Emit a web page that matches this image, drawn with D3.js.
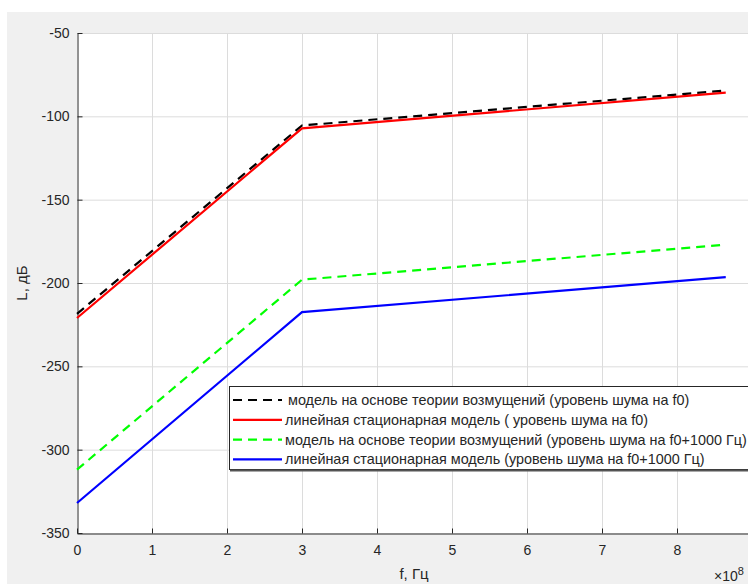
<!DOCTYPE html>
<meta charset="utf-8">
<style>
body{margin:0;background:#fff;}
svg text{font-family:"Liberation Sans",Arial,sans-serif;fill:#262626;}
</style>
<svg id="chart" width="748" height="584"></svg>
<script src="https://d3js.org/d3.v7.min.js"></script>
<script>
// frequency points, Hz
const freq = [0, 3e8, 8.65e8]
// noise levels, dB
const blackDashed = [-218.5, -105.5, -84.5]
const redSolid = [-221, -107.2, -85.8]
const greenDashed = [-312, -198, -177]
const blueSolid = [-332, -217.5, -196.5]

const xTicks = d3.range(0, 10)   // ×10^8
const yTicks = [-350, -300, -250, -200, -150, -100, -50]

const legendLabels = [
  'модель на основе теории возмущений (уровень шума на f0)',
  'линейная стационарная модель ( уровень шума на f0)',
  'модель на основе теории возмущений (уровень шума на f0+1000 Гц)',
  'линейная стационарная модель (уровень шума на f0+1000 Гц)'
]

const series = [
  {vals: blackDashed, color: '#000', dash: '9,6'},
  {vals: redSolid, color: '#ff0000', dash: null},
  {vals: greenDashed, color: '#00ff00', dash: '9,6'},
  {vals: blueSolid, color: '#0000ff', dash: null}
]

let svg = d3.select('#chart')

// figure background
svg.append('rect').attr('x', 7).attr('y', 12).attr('width', 741).attr('height', 572).attr('fill', '#f0f0f0')

let x = d3.scaleLinear().domain([0, 9e8]).range([77, 752])
let y = d3.scaleLinear().domain([-350, -50]).range([533, 33])

// plot area
svg.append('rect').attr('x', 77).attr('y', 33).attr('width', 675).attr('height', 500).attr('fill', '#fff')

// grid
let grid = svg.append('g').attr('stroke', '#dcdcdc').attr('stroke-width', 1)
grid.selectAll('line.gx').data(xTicks.slice(1)).join('line')
  .attr('x1', d => x(d * 1e8) + 0.5).attr('x2', d => x(d * 1e8) + 0.5)
  .attr('y1', 33).attr('y2', 533)
grid.selectAll('line.gy').data(yTicks.slice(1)).join('line')
  .attr('y1', d => y(d) + 0.5).attr('y2', d => y(d) + 0.5)
  .attr('x1', 77).attr('x2', 752)

// axes (ticks inside like matlab)
let xAxis = d3.axisBottom(x).tickValues(xTicks.map(d => d * 1e8))
  .tickFormat(d => d / 1e8).tickSizeInner(-5).tickSizeOuter(0).tickPadding(12)
let gx = svg.append('g').attr('transform', 'translate(0,533.5)').call(xAxis)
let yAxis = d3.axisLeft(y).tickValues(yTicks).tickFormat(d => String(d))
  .tickSizeInner(-5).tickSizeOuter(0).tickPadding(8)
let gy = svg.append('g').attr('transform', 'translate(77.5,0)').call(yAxis)
for (const g of [gx, gy]) {
  g.select('.domain').attr('stroke', '#262626')
  g.selectAll('.tick line').attr('stroke', '#262626')
  g.selectAll('.tick text').attr('font-size', 14).attr('fill', '#262626')
    .attr('font-family', '"Liberation Sans",Arial,sans-serif')
}

// lines
let line = d3.line().x((d, i) => x(freq[i])).y(d => y(d))
svg.selectAll('path.series').data(series).join('path')
  .attr('class', 'series')
  .attr('d', d => line(d.vals))
  .attr('fill', 'none')
  .attr('stroke', d => d.color)
  .attr('stroke-width', 2.2)
  .attr('stroke-dasharray', d => d.dash)

// axis labels
svg.append('text').attr('x', 414).attr('y', 579).attr('text-anchor', 'middle')
  .attr('font-size', 15).text('f, Гц')
svg.append('text').attr('transform', 'translate(27,283) rotate(-90)').attr('text-anchor', 'middle')
  .attr('font-size', 15).text('L, дБ')
let ex = svg.append('text').attr('x', 714).attr('y', 581).attr('font-size', 14)
ex.append('tspan').text('×10')
ex.append('tspan').attr('dy', -6).attr('font-size', 11).text('8')

// legend
let lg = svg.append('g').attr('transform', 'translate(229,386)')
lg.append('rect').attr('x', 0.5).attr('y', 0.5).attr('width', 522).attr('height', 83)
  .attr('fill', '#fff').attr('stroke', '#262626').attr('stroke-width', 1)
lg.append('line').attr('x1', 1).attr('x2', 524).attr('y1', 84.5).attr('y2', 84.5).attr('stroke', '#555').attr('stroke-width', 2)
let rows = lg.selectAll('g.row').data(series).join('g').attr('class', 'row')
  .attr('transform', (d, i) => `translate(0,${14 + i * 19.8})`)
rows.append('line').attr('x1', 4).attr('x2', 53).attr('y1', 0).attr('y2', 0)
  .attr('stroke', d => d.color).attr('stroke-width', 2.2).attr('stroke-dasharray', d => d.dash)
rows.append('text').attr('x', (d, i) => i === 0 ? 59 : 56).attr('y', 5)
  .attr('font-size', 14.4).text((d, i) => legendLabels[i])
</script>
